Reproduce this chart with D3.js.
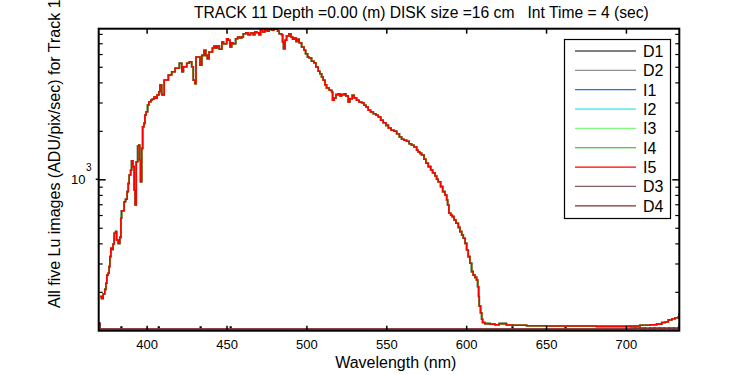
<!DOCTYPE html>
<html><head><meta charset="utf-8">
<script src="https://cdn.jsdelivr.net/npm/d3@7/dist/d3.min.js"></script>
<style>
body{margin:0;background:#fff}
svg{display:block;font-family:"Liberation Sans",Arial,sans-serif}
</style></head><body>
<svg id="c" width="750" height="375"></svg>
<script>
// ---- data ----
const wavelengthI = [370.9,371.8,372.8,373.8,374.5,375.1,375.9,376.5,377.0,377.6,378.4,379.0,379.7,380.6,381.2,382.2,383.2,383.9,384.3,385.3,385.9,386.8,387.8,388.5,389.1,390.0,390.6,391.4,392.2,392.8,393.5,394.4,395.2,395.6,396.2,396.9,397.5,398.3,398.9,399.7,400.6,401.4,402.7,403.5,404.6,405.6,406.5,407.7,408.3,409.4,409.8,411.0,413.6,415.7,417.8,420.5,422.0,423.0,425.1,426.7,428.2,429.2,430.3,430.9,432.4,433.4,434.5,435.9,437.0,438.0,439.1,440.1,441.2,442.2,443.3,444.3,445.5,447.1,448.1,449.1,450.1,451.1,452.2,453.2,454.2,455.7,457.0,458.4,459.5,460.5,462.1,463.5,465.0,466.7,467.7,469.2,470.3,471.3,472.6,474.0,475.5,476.7,478.2,479.7,480.9,482.0,483.0,484.5,485.1,485.7,486.6,487.6,489.1,490.3,491.4,492.4,493.5,494.5,495.5,497.0,498.5,499.5,500.7,501.7,503.2,504.7,505.9,507.4,508.4,509.5,510.5,511.6,512.6,514.3,515.8,516.4,517.4,518.5,519.9,521.0,522.0,523.7,524.7,526.2,527.2,528.7,529.9,531.4,532.9,534.6,536.0,537.3,538.7,540.2,541.9,543.6,545.0,546.5,548.1,549.8,551.3,553.0,554.8,556.5,558.2,559.6,561.0,562.7,564.3,565.8,567.3,569.0,570.0,571.1,572.1,573.6,574.8,576.3,577.8,579.0,580.5,581.5,582.5,584.0,585.3,586.7,587.8,588.4,589.2,590.3,591.3,592.4,593.6,595.1,596.1,597.2,598.2,599.3,600.3,601.3,602.3,603.4,604.4,605.5,606.5,607.2,607.8,608.2,609.0,609.7,610.3,611.7,614.9,618.0,620.7,625.2,629.4,637.8,650.3,671.2,681.6,696.2,702.5,708.8,715.1,719.2,722.4,724.5,726.5,728.7,730.8,732.8,733.4];
const luI = [187,182,194,207,226,254,261,287,331,373,367,396,462,473,420,400,436,573,638,638,726,751,838,944,1063,1142,1305,1198,858,692,1286,1610,1633,1318,966,1557,2122,2227,2508,2630,2894,3034,3109,3141,3246,3186,3340,3501,3853,3388,3340,4139,4444,4659,4891,5254,4659,5005,5254,5375,5005,4121,3926,5748,5748,5106,5890,6327,5890,5612,6176,6176,6539,6730,6539,6730,6419,7124,6953,6953,7468,7300,6633,7054,6953,7468,7653,7543,7653,8022,8139,7909,8104,7909,8220,8139,7909,8423,8220,8423,8304,8545,8423,8545,8545,8304,8022,7909,7124,6474,7300,7764,8022,7653,7405,7543,7195,7405,7054,6633,6327,6026,5748,5668,5406,5299,4983,4686,4529,4320,4121,3870,3691,3571,3485,3095,3199,3355,3403,3292,3355,3403,3292,3021,3168,3326,3199,3095,3021,2991,2881,2813,2683,2618,2556,2498,2438,2326,2247,2164,2083,2015,1987,1920,1831,1772,1747,1722,1664,1626,1587,1514,1477,1450,1416,1331,1257,1198,1142,1099,1048,1000,966,900,838,799,744,692,615,600,586,559,533,503,473,451,430,400,364,331,301,267,254,246,237,215,187,163,148,135,129,127,126,125,127,124.5,124,123,122.7,122.7,122,122,122.7,124,125,126,129,130,134,136,138,140,147];

const wavelengthD = [370.0,370.9,371.2,372.0,383.6,384.0,384.4,407.0,407.4,407.8,433.2,433.6,434.0,452.0,452.4,452.8,628.4,628.8,629.2,661.6,662.0,662.4,700,703,706,709,712,715,718,721,724,727,730,732.5,733.4];
const luD1 = [116,116,116,116,116,121,116,116,121,116,116,121,116,116,121,116,116,121,116,116,121,116,116,119,116,119,116,119,116,119,116,119,116,117,117];
const luD2 = [116,116,116,116,116,116,116,116,116,116,116,116,116,116,116,116,116,116,116,116,116,116,116,117,116,117,116,117,116,117,116,117,116,117,117];
const luD3 = [127,117.5,117.5,117.5,117.5,117.5,117.5,117.5,117.5,117.5,117.5,117.5,117.5,117.5,117.5,117.5,117.5,117.5,117.5,117.5,117.5,117.5,117.5,119.5,117.5,119.5,117.5,119.5,117.5,119.5,117.5,119.5,117.5,120,128];
const luD4 = [128,117.5,117.5,117.5,117.5,117.5,117.5,117.5,117.5,117.5,117.5,117.5,117.5,117.5,117.5,117.5,117.5,117.5,117.5,117.5,117.5,117.5,117.5,117.5,119,117.5,119,117.5,119,117.5,119,117.5,119,118,128];

const seriesNames = ["D1","D2","I1","I2","I3","I4","I5","D3","D4"];
const seriesColors = ["#000000","#909090","#1f6ff0","#20f0f0","#80f880","#00c000","#ff0000","#806060","#803030"];
const xTickValues = [400,450,500,550,600,650,700];
const yMinorTicks = [200,300,400,500,600,700,800,900,2000,3000,4000,5000,6000,7000,8000];
const yMajorTicks = [1000];
const titleText = "TRACK 11 Depth =0.00 (m) DISK size =16 cm   Int Time = 4 (sec)";
const xLabel = "Wavelength (nm)";
const yLabel = "All five Lu images (ADU/pix/sec) for Track 1";

// ---- build series ----
const mk = (xs, ys) => xs.map((w, i) => ({w, v: ys[i]}));
const series = [
  mk(wavelengthD, luD1), mk(wavelengthD, luD2),
  mk(wavelengthI, luI), mk(wavelengthI, luI), mk(wavelengthI, luI), mk(wavelengthI, luI), mk(wavelengthI, luI),
  mk(wavelengthD, luD3), mk(wavelengthD, luD4)
];

// ---- layout ----
const L = 98.7, R = 679.3, T = 28.7, B = 330.7;
const svg = d3.select("#c");
const x = d3.scaleLinear().domain([370, 733.4]).range([L, R]);
const y = d3.scaleLog().domain([114.7, 8620]).range([B, T]);

svg.append("defs").append("clipPath").attr("id", "clip")
  .append("rect").attr("x", L).attr("y", T).attr("width", R - L).attr("height", B - T);

const line = d3.line().x(d => x(d.w)).y(d => y(d.v)).curve(d3.curveStepAfter);
const gLines = svg.append("g").attr("clip-path", "url(#clip)");
series.forEach((s, i) => {
  gLines.append("path").datum(s).attr("d", line)
    .attr("fill", "none").attr("stroke", seriesColors[i]).attr("stroke-width", 1.6);
});

// ---- axes ----
const axFont = g => g.selectAll("text").attr("font-size", 13).attr("font-family", '"Liberation Sans",Arial,sans-serif').attr("fill", "#000");
const bx = svg.append("g").attr("transform", `translate(0,${B})`)
  .call(d3.axisBottom(x).tickValues(xTickValues).tickFormat(d3.format("d")).tickSizeInner(-5).tickSizeOuter(0).tickPadding(9.5));
bx.select(".domain").remove(); bx.call(axFont);
bx.selectAll("line").attr("stroke", "#000").attr("stroke-width", 1.5);
const tx = svg.append("g").attr("transform", `translate(0,${T})`)
  .call(d3.axisTop(x).tickValues(xTickValues).tickFormat("").tickSizeInner(-5).tickSizeOuter(0));
tx.select(".domain").remove();
tx.selectAll("line").attr("stroke", "#000").attr("stroke-width", 1.5);

[[L, d3.axisLeft], [R, d3.axisRight]].forEach(([pos, ax]) => {
  const g = svg.append("g").attr("transform", `translate(${pos},0)`)
    .call(ax(y).tickValues(yMinorTicks).tickFormat("").tickSizeInner(-4).tickSizeOuter(0));
  g.select(".domain").remove();
  g.selectAll("line").attr("stroke", "#000").attr("stroke-width", 1.2);
  const gm = svg.append("g").attr("transform", `translate(${pos},0)`)
    .call(ax(y).tickValues(yMajorTicks).tickFormat("").tickSizeInner(-7).tickSizeOuter(0));
  gm.select(".domain").remove();
  gm.selectAll("line").attr("stroke", "#000").attr("stroke-width", 1.5);
});
// outward part of major left tick
svg.selectAll(".majOut").data(yMajorTicks).enter().append("line")
  .attr("x1", L - 3).attr("x2", L).attr("y1", d => y(d)).attr("y2", d => y(d))
  .attr("stroke", "#000").attr("stroke-width", 1.5);
// 10^3 label
yMajorTicks.forEach(t => {
  const e = Math.round(Math.log10(t));
  svg.append("text").attr("x", 85.5).attr("y", y(t) + 4.3).attr("text-anchor", "end")
    .attr("font-size", 13).text("10");
  svg.append("text").attr("x", 86).attr("y", y(t) - 8.3).attr("font-size", 10).text(e);
});

// frame
svg.append("rect").attr("x", L).attr("y", T).attr("width", R - L).attr("height", B - T)
  .attr("fill", "none").attr("stroke", "#000").attr("stroke-width", 2);

// ---- titles ----
svg.append("text").attr("x", 194).attr("y", 18).attr("font-size", 15.65)
  .style("white-space", "pre").text(titleText);
svg.append("text").attr("x", 395.8).attr("y", 368).attr("text-anchor", "middle")
  .attr("font-size", 16).text(xLabel);
svg.append("text").attr("transform", "translate(60,308) rotate(-90)")
  .attr("font-size", 16).text(yLabel);

// ---- legend ----
const lg = svg.append("g");
lg.append("rect").attr("x", 564.5).attr("y", 39.5).attr("width", 106).attr("height", 179)
  .attr("fill", "#fff").attr("stroke", "#000").attr("stroke-width", 1.2);
seriesNames.forEach((n, i) => {
  const yy = 51 + i * 19.35;
  lg.append("line").attr("x1", 575).attr("x2", 636).attr("y1", yy).attr("y2", yy)
    .attr("stroke", seriesColors[i]).attr("stroke-width", 1.2);
  lg.append("text").attr("x", 643).attr("y", yy + 5.8).attr("font-size", 16).text(n);
});
</script>
</body></html>
